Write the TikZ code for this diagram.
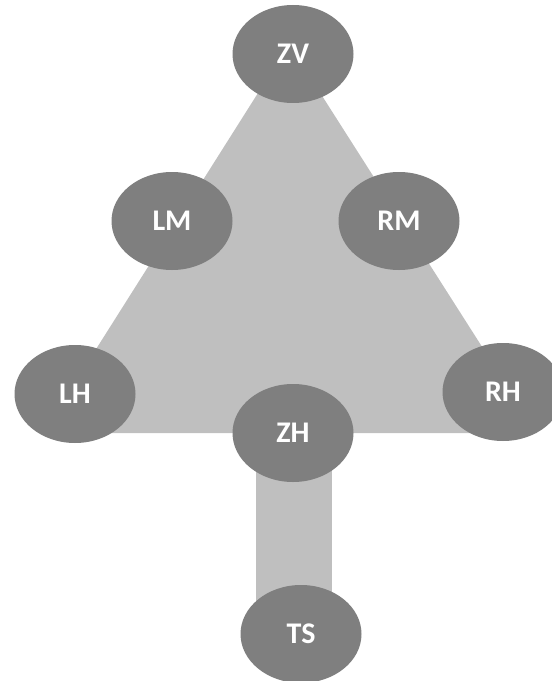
\documentclass[tikz,border=0pt]{standalone}
\usepackage{fontspec}
\setmainfont{Carlito}
\usetikzlibrary{shapes.geometric}
\definecolor{nodegray}{HTML}{7F7F7F}
\definecolor{shapegray}{HTML}{BFBFBF}
\tikzset{
  posnode/.style={ellipse, fill=nodegray, minimum width=90.75pt, minimum height=73.5pt,
    inner sep=0pt, text=white, font=\fontsize{22.5}{26}\selectfont\bfseries},
}
\begin{document}
\begin{tikzpicture}[x=0.75pt, y=-0.75pt]
  \useasboundingbox (0,0) rectangle (551,681);
  % background frame: triangle and stem
  \fill[shapegray] (289,44) -- (537,433) -- (43,433) -- cycle;
  \fill[shapegray] (256,433) rectangle (332,634);
  % positions
  \node[posnode] (ZV) at (293,54) {ZV};
  \node[posnode] (LM) at (172,221) {LM};
  \node[posnode] (RM) at (399,221) {RM};
  \node[posnode] (LH) at (75,394) {LH};
  \node[posnode] (RH) at (503,392) {RH};
  \node[posnode] (ZH) at (293,433) {ZH};
  \node[posnode] (TS) at (301,634) {TS};
\end{tikzpicture}
\end{document}
